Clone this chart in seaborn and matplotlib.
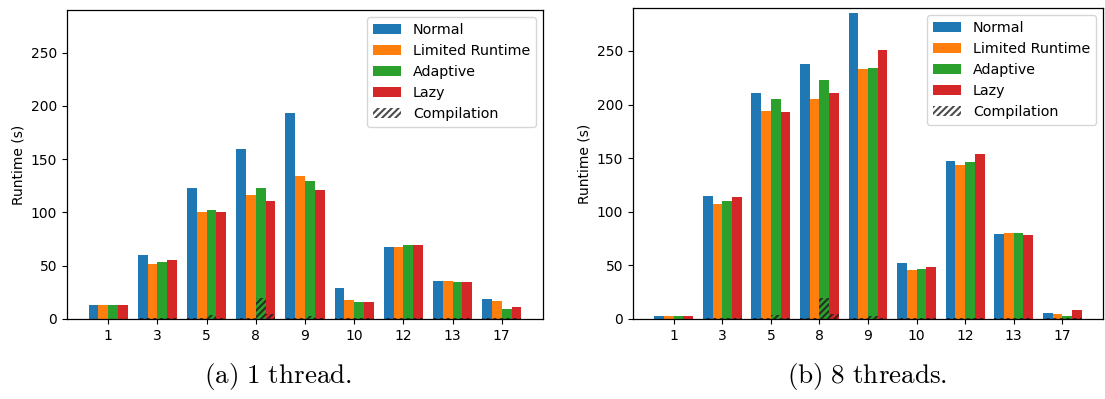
import matplotlib
matplotlib.use("Agg")
import matplotlib.pyplot as plt
from matplotlib.patches import Patch
import seaborn as sns
import pandas as pd

categories = ["1", "3", "5", "8", "9", "10", "12", "13", "17"]
methods = ["Normal", "Limited Runtime", "Adaptive", "Lazy"]
colors = ["#1f77b4", "#ff7f0e", "#2ca02c", "#d62728"]

# 1 thread runtimes (s)
t1_normal = [13, 60, 123, 160, 193, 29.5, 68, 36, 19]
t1_limited = [13, 52, 100, 116, 134.5, 17.5, 68, 36, 16.5]
t1_adaptive = [13, 53.5, 102.5, 123, 129.5, 16, 69.5, 35, 9.5]
t1_lazy = [13, 55, 100, 111, 121.5, 16, 69.5, 35, 11]

# 8 threads runtimes (s)
t8_normal = [3, 115, 211, 238, 285, 52, 147, 79, 5.5]
t8_limited = [3, 107.5, 194, 205, 233, 45.5, 143.5, 80, 4.5]
t8_adaptive = [3, 110, 205, 223, 234, 47, 146, 80, 3]
t8_lazy = [3, 114, 193, 211, 251, 48.5, 154, 78, 8]

# compilation time (s)
comp_normal = [0, 1, 1, 1, 1, 1, 1, 1, 1]
comp_limited = [0, 1, 1, 1, 1, 1, 1, 1, 1]
comp_adaptive = [0, 1, 4, 20, 3, 1, 1, 1, 1]
comp_lazy = [0, 1, 1, 5, 1, 1, 1, 1, 1]

captions = ["(a) 1 thread.", "(b) 8 threads."]


def long_df(series):
    rows = []
    for m, vals in zip(methods, series):
        for c, v in zip(categories, vals):
            rows.append({"cat": c, "method": m, "val": v})
    return pd.DataFrame(rows)


plt.rcParams["mathtext.fontset"] = "cm"
plt.rcParams["font.family"] = ["DejaVu Sans"]
plt.rcParams["hatch.linewidth"] = 1.5

fig = plt.figure(figsize=(11.05, 3.99), dpi=100)
ax1 = fig.add_axes([67 / 1105, 1 - 319 / 399, 476 / 1105, 309 / 399])
ax2 = fig.add_axes([633 / 1105, 1 - 319 / 399, 470 / 1105, 311 / 399])

datasets = [
    (ax1, [t1_normal, t1_limited, t1_adaptive, t1_lazy]),
    (ax2, [t8_normal, t8_limited, t8_adaptive, t8_lazy]),
]
caption_x = [278 / 1105, 867 / 1105]
comp_df = long_df([comp_normal, comp_limited, comp_adaptive, comp_lazy])

for (ax, series), cap, cx in zip(datasets, captions, caption_x):
    df = long_df(series)
    sns.barplot(data=df, x="cat", y="val", hue="method", order=categories,
                hue_order=methods, palette=colors, saturation=1,
                errorbar=None, legend=False, linewidth=0, ax=ax)
    n = len(ax.patches)
    sns.barplot(data=comp_df, x="cat", y="val", hue="method", order=categories,
                hue_order=methods, palette=colors, saturation=1,
                errorbar=None, legend=False, linewidth=0, ax=ax)
    for p in ax.patches[n:]:
        p.set_facecolor("none")
        p.set_edgecolor((0.12, 0.12, 0.12, 0.85))
        p.set_linewidth(0)
        p.set_hatch("/////")
    ax.set_xlim(-0.84, 8.84)
    ax.set_ylim(0, 290)
    ax.set_yticks([0, 50, 100, 150, 200, 250])
    ax.set_xlabel("")
    ax.set_ylabel("Runtime (s)")
    for s in ax.spines.values():
        s.set_visible(True)
        s.set_linewidth(0.9)
    ax.tick_params(labelsize=10, length=3.5)
    handles = [Patch(facecolor=c, label=m) for c, m in zip(colors, methods)]
    handles.append(Patch(facecolor="none", edgecolor=(0.3, 0.3, 0.3), linewidth=0,
                         hatch="/////", label="Compilation"))
    ax.legend(handles=handles, loc="upper right", fontsize=10.3)
    fig.text(cx, 1 - 377 / 399,
             r"$\mathrm{" + cap.replace(" ", r"\ ") + "}$",
             ha="center", va="center", fontsize=19.5)

fig.savefig("out.png", dpi=100)
